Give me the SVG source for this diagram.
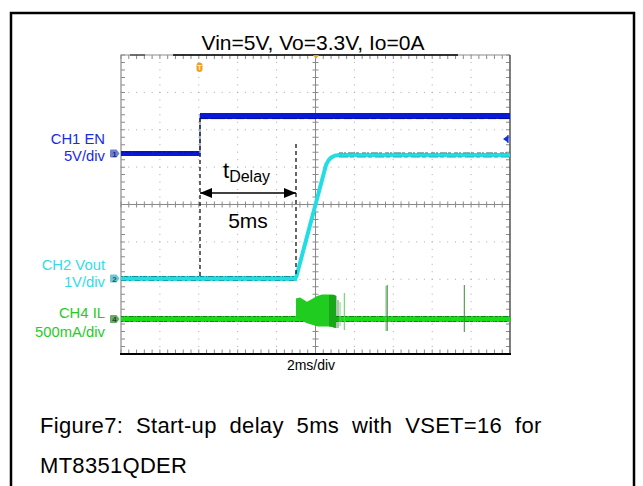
<svg xmlns="http://www.w3.org/2000/svg" width="643" height="486" viewBox="0 0 643 486">
<defs>
<marker id="ah" viewBox="0 0 12 10" refX="12" refY="5" markerWidth="12" markerHeight="10" markerUnits="userSpaceOnUse" orient="auto-start-reverse"><path d="M0,0 L12,5 L0,10 z" fill="#000"/></marker>
</defs>
<style>
text{font-family:"Liberation Sans",Arial,sans-serif}
.gv{stroke:#a8a8a8;stroke-width:1;stroke-dasharray:1 6.475}
.gh{stroke:#a8a8a8;stroke-width:1;stroke-dasharray:1 6.78}
.tv{stroke:#8a8a8a;stroke-width:1;stroke-dasharray:1 6.475}
.th{stroke:#8a8a8a;stroke-width:1;stroke-dasharray:1 6.78}
.ax{stroke:#8a8a8a;stroke-width:1}
.dash{stroke:#000;stroke-width:1.2;stroke-dasharray:4 3;fill:none}
.lbl{font-size:14.8px;text-anchor:end}
.mk{font-size:8px;font-weight:bold;text-anchor:middle}
.cap{font-size:22px;letter-spacing:0.3px;fill:#000}
</style>
<rect width="643" height="486" fill="#fff"/>
<g id="border">
<path d="M11,490 V13 H634 V490" fill="none" stroke="#000" stroke-width="2.5"/>
</g>
<text x="313" y="50" font-size="21" text-anchor="middle" fill="#000">Vin=5V, Vo=3.3V, Io=0A</text>
<g id="scope-grid">
<g class="gv">
<line x1="159.9" y1="54.5" x2="159.9" y2="354"/>
<line x1="198.8" y1="54.5" x2="198.8" y2="354"/>
<line x1="237.7" y1="54.5" x2="237.7" y2="354"/>
<line x1="276.6" y1="54.5" x2="276.6" y2="354"/>
<line x1="354.4" y1="54.5" x2="354.4" y2="354"/>
<line x1="393.3" y1="54.5" x2="393.3" y2="354"/>
<line x1="432.2" y1="54.5" x2="432.2" y2="354"/>
<line x1="471.1" y1="54.5" x2="471.1" y2="354"/>
</g>
<g class="gh">
<line x1="120.5" y1="92.4" x2="510" y2="92.4"/>
<line x1="120.5" y1="129.75" x2="510" y2="129.75"/>
<line x1="120.5" y1="167.1" x2="510" y2="167.1"/>
<line x1="120.5" y1="241.9" x2="510" y2="241.9"/>
<line x1="120.5" y1="279.25" x2="510" y2="279.25"/>
<line x1="120.5" y1="316.6" x2="510" y2="316.6"/>
</g>
<line class="ax" x1="315.5" y1="55" x2="315.5" y2="354"/>
<line class="ax" x1="121" y1="204.5" x2="510" y2="204.5"/>
<line class="th" x1="120.5" y1="204.5" x2="510" y2="204.5" style="stroke-width:6"/>
<line class="tv" x1="315.5" y1="54.5" x2="315.5" y2="354" style="stroke-width:6"/>
<line class="th" x1="120.5" y1="57" x2="510" y2="57" style="stroke-width:4"/>
<line class="th" x1="120.5" y1="351.5" x2="510" y2="351.5" style="stroke-width:4"/>
<line class="tv" x1="123" y1="54.5" x2="123" y2="354" style="stroke-width:4"/>
<line class="tv" x1="508" y1="54.5" x2="508" y2="354" style="stroke-width:4"/>
<path d="M121,354 V55 H510" fill="none" stroke="#8c8c8c" stroke-width="1.2"/>
<line x1="510" y1="55" x2="510" y2="354" stroke="#555" stroke-width="1.5"/>
<line x1="120" y1="354" x2="511" y2="354" stroke="#000" stroke-width="2"/>
<line x1="173" y1="55" x2="458" y2="55" stroke="#000" stroke-width="1.5"/>
<line x1="130" y1="55" x2="145" y2="55" stroke="#333" stroke-width="1.2"/>
</g>
<g id="ch1">
<line x1="121" y1="153.5" x2="200" y2="153.5" stroke="#0a18d8" stroke-width="5"/>
<line x1="121" y1="152" x2="200" y2="152" stroke="#000a80" stroke-width="0.8" stroke-dasharray="3 1 6 2 2 1 5 1"/>
<line x1="200" y1="156" x2="200" y2="114" stroke="#8a94d0" stroke-width="1.5"/>
<line x1="200" y1="116" x2="510" y2="116" stroke="#0a18d8" stroke-width="6"/>
<line x1="200" y1="118.6" x2="510" y2="118.6" stroke="#000a90" stroke-width="0.8" stroke-dasharray="8 3 14 2 5 4"/>
<path d="M503,139 L508,135.5 L508,142.5 Z" fill="#1030e0"/>
<line x1="508" y1="135" x2="508" y2="143" stroke="#1030e0" stroke-width="1.2"/>
<path d="M111,149.5 h5.5 l3,4 l-3,4 h-5.5 a1,1 0 0 1 -1,-1 v-6 a1,1 0 0 1 1,-1 z" fill="#6f7fc8"/>
<text class="mk" x="114.5" y="156.5" fill="#1a2a88">1</text>
</g>
<g id="ch2">
<line x1="121" y1="278.5" x2="297" y2="278.5" stroke="#22dde4" stroke-width="5"/>
<line x1="121" y1="276.5" x2="297" y2="276.5" stroke="#207878" stroke-width="0.8" stroke-dasharray="2 1 4 2 1 1 6 2"/>
<line x1="121" y1="280.5" x2="297" y2="280.5" stroke="#207878" stroke-width="0.6" stroke-dasharray="5 3 2 4"/>
<path d="M296,278 L326,165 Q330,155 339,155 L510,155" fill="none" stroke="#22dde4" stroke-width="4" stroke-linejoin="round"/>
<path d="M339,152.8 L510,152.8" stroke="#2a7a7a" stroke-width="0.8" stroke-dasharray="4 1 2 2 7 1 3 3"/>
<path d="M339,157.2 L510,157.2" stroke="#2a7a7a" stroke-width="0.6" stroke-dasharray="9 2 4 3"/>
<path d="M111,274.5 h5.5 l3,4 l-3,4 h-5.5 a1,1 0 0 1 -1,-1 v-6 a1,1 0 0 1 1,-1 z" fill="#70c8d4"/>
<text class="mk" x="114.5" y="281.5" fill="#1a5a66">2</text>
</g>
<g id="ch4">
<line x1="121" y1="319" x2="510" y2="319" stroke="#18dc18" stroke-width="6"/>
<line x1="121" y1="316.5" x2="510" y2="316.5" stroke="#1a6a1a" stroke-width="0.8" stroke-dasharray="3 1 2 2 5 1 1 1 4 2"/>
<line x1="121" y1="321.5" x2="510" y2="321.5" stroke="#1a6a1a" stroke-width="0.8" stroke-dasharray="2 2 4 1 3 3 1 1"/>
<path d="M296,298.5 L300,297.5 L307,301.7 L312,299 L317,296 L322,294.5 L333,294.5 L336,295.5 L336,328 L330,326.5 L318,326.5 L307,323.3 L296,318 Z" fill="#1fcc1f"/>
<g stroke="#0f5f0f" stroke-width="0.7">
<line x1="330" y1="295" x2="330" y2="327"/>
<line x1="332" y1="295" x2="332" y2="327"/>
<line x1="334" y1="295" x2="334" y2="328"/>
<line x1="336" y1="296" x2="336" y2="328"/>
<line x1="338" y1="300" x2="338" y2="328"/>
</g>
<line x1="340" y1="302" x2="340" y2="326" stroke="#55cc55" stroke-width="0.8"/>
<line x1="344.3" y1="293" x2="344.3" y2="330" stroke="#55d055" stroke-width="1"/>
<line x1="386" y1="286" x2="386" y2="331" stroke="#7ac07a" stroke-width="1"/>
<line x1="387.2" y1="285" x2="387.2" y2="331" stroke="#2c8a2c" stroke-width="1"/>
<line x1="464.3" y1="285" x2="464.3" y2="332" stroke="#3a8a3a" stroke-width="1"/>
<path d="M111,315 h5.5 l3,4 l-3,4 h-5.5 a1,1 0 0 1 -1,-1 v-6 a1,1 0 0 1 1,-1 z" fill="#6aaa6a"/>
<text class="mk" x="114.5" y="322" fill="#1a4a1a">4</text>
</g>
<g id="markers">
<rect x="196.5" y="62.5" width="6" height="9.5" rx="3" fill="#f0a020"/>
<text x="199.5" y="70" font-size="7.5" font-weight="bold" text-anchor="middle" fill="#fff3d0">T</text>
<path d="M313,55 L319,55 L316,59 Z" fill="#f0a020"/>
</g>
<g id="labels">
<text class="lbl" x="105" y="144" fill="#1a2ae8">CH1 EN</text>
<text class="lbl" x="105" y="161" fill="#1a2ae8">5V/div</text>
<text class="lbl" x="105" y="270" fill="#33dbe8">CH2 Vout</text>
<text class="lbl" x="105" y="287" fill="#33dbe8">1V/div</text>
<text class="lbl" x="105" y="318" fill="#1fcc1f">CH4 IL</text>
<text class="lbl" x="105" y="337" fill="#1fcc1f">500mA/div</text>
<text x="311" y="370" font-size="14" text-anchor="middle" fill="#000">2ms/div</text>
</g>
<g id="connectors">
<line class="dash" x1="200" y1="118" x2="200" y2="278"/>
<line class="dash" x1="296" y1="144" x2="296" y2="277"/>
<line x1="200" y1="193" x2="296" y2="193" stroke="#000" stroke-width="1.5" marker-start="url(#ah)" marker-end="url(#ah)"/>
</g>
<g id="annotation">
<text x="223" y="177.5" font-size="22" fill="#000">t<tspan font-size="16" dy="4">Delay</tspan></text>
<text x="248" y="228" font-size="21" text-anchor="middle" fill="#000">5ms</text>
</g>
<g id="caption">
<text class="cap" x="40" y="433" word-spacing="6.5">Figure7: Start-up delay 5ms with VSET=16 for</text>
<text class="cap" x="40" y="473">MT8351QDER</text>
</g>
</svg>
